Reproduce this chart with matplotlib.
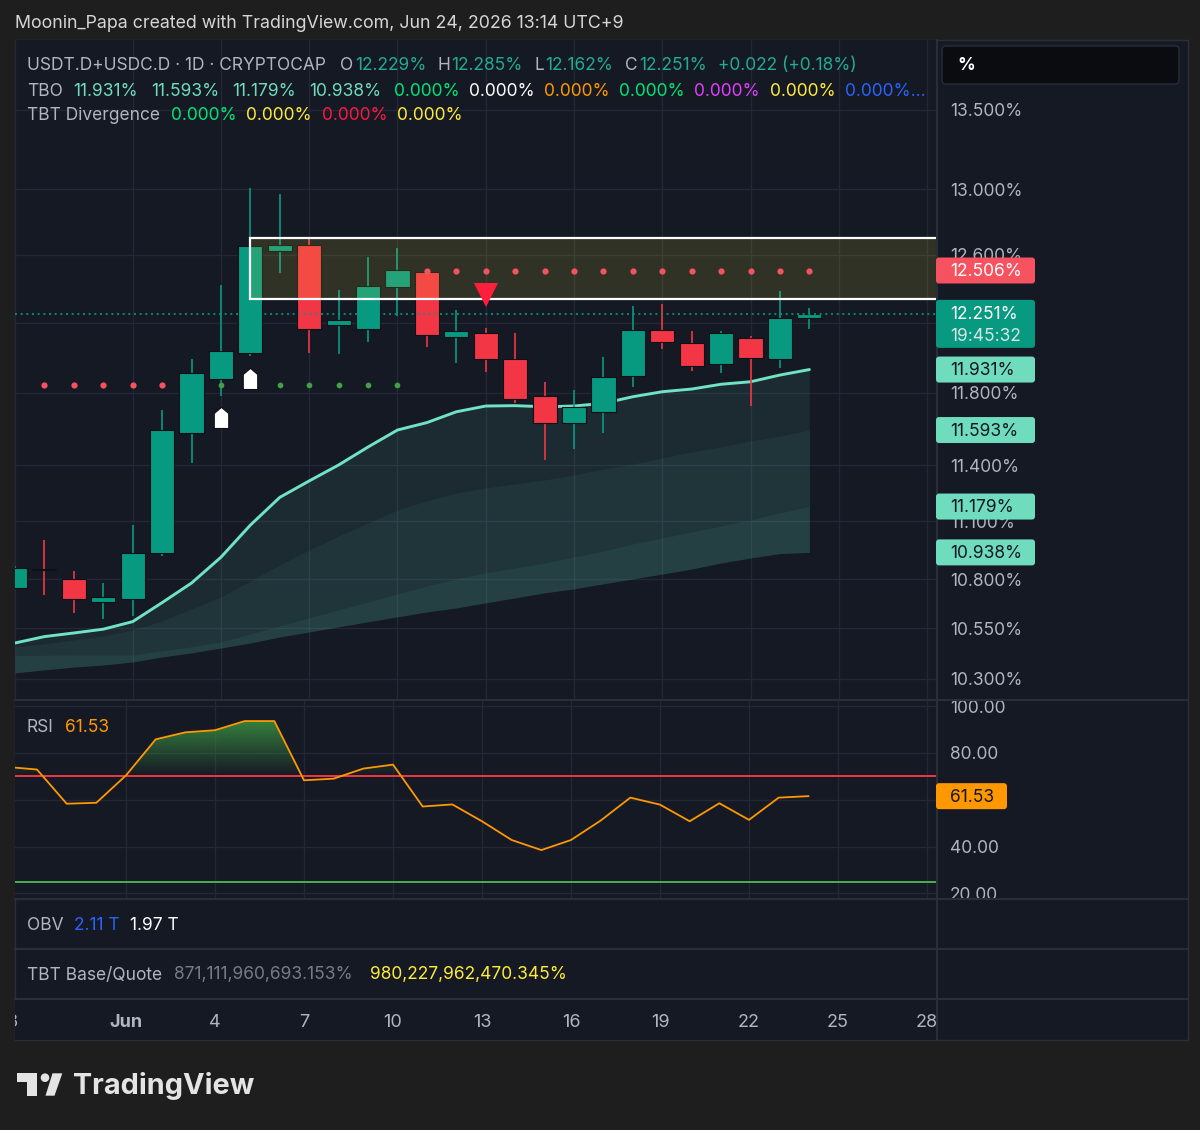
import numpy as np
import pandas as pd
import matplotlib
matplotlib.use("Agg")
from matplotlib import pyplot as plt
import matplotlib.dates as mdates
from matplotlib.patches import Rectangle, FancyBboxPatch, Polygon, Circle
from matplotlib.path import Path
from matplotlib.lines import Line2D
from matplotlib.transforms import IdentityTransform
from matplotlib.ticker import FixedLocator, NullLocator, FuncFormatter
from matplotlib.colors import to_rgb

plt.rcParams['font.family'] = ['Inter', 'DejaVu Sans']

# ---- USDT.D+USDC.D daily candles ----
days = pd.date_range('2026-05-28', '2026-06-24', freq='D')
opens  = [10.756, 10.850, 10.799, 10.685, 10.697, 10.936, 11.575, 11.878, 12.027, 12.623,
          12.656, 12.188, 12.165, 12.410, 12.497, 12.119, 12.138, 11.989, 11.782, 11.630,
          11.694, 11.895, 12.158, 12.084, 11.963, 12.110, 11.989, 12.229]
highs  = [10.870, 11.003, 10.842, 10.782, 11.081, 11.704, 11.989, 12.420, 13.004, 12.969,
          12.693, 12.391, 12.588, 12.639, 12.510, 12.274, 12.171, 12.138, 11.862, 11.816,
          12.004, 12.297, 12.309, 12.152, 12.152, 12.123, 12.385, 12.285]
lows   = [10.750, 10.720, 10.626, 10.596, 10.614, 10.919, 11.415, 11.784, 12.010, 12.493,
          12.027, 12.018, 12.087, 12.239, 12.058, 11.970, 11.919, 11.745, 11.429, 11.489,
          11.575, 11.831, 12.046, 11.925, 11.913, 11.728, 11.938, 12.162]
closes = [10.859, 10.845, 10.697, 10.707, 10.933, 11.593, 11.910, 12.039, 12.653, 12.656,
          12.165, 12.215, 12.414, 12.511, 12.127, 12.152, 11.989, 11.764, 11.634, 11.722,
          11.891, 12.158, 12.090, 11.953, 12.138, 11.995, 12.229, 12.251]

# TBO bands (fast line on top, three slower lines below)
tbo_fast = [10.477, 10.509, 10.527, 10.546, 10.584, 10.680, 10.780, 10.913, 11.081, 11.228,
            11.316, 11.402, 11.500, 11.593, 11.634, 11.694, 11.726, 11.728, 11.722, 11.726,
            11.741, 11.778, 11.806, 11.821, 11.848, 11.862, 11.900, 11.931]
tbo_mid  = [10.458, 10.473, 10.492, 10.512, 10.542, 10.588, 10.648, 10.709, 10.790, 10.873,
            10.951, 11.024, 11.092, 11.161, 11.209, 11.251, 11.278, 11.300, 11.321, 11.348,
            11.380, 11.407, 11.440, 11.473, 11.500, 11.533, 11.560, 11.593]
tbo_low  = [10.414, 10.416, 10.417, 10.418, 10.418, 10.438, 10.458, 10.482, 10.522, 10.562,
            10.603, 10.643, 10.683, 10.724, 10.765, 10.801, 10.832, 10.857, 10.883, 10.914,
            10.945, 10.982, 11.013, 11.045, 11.076, 11.108, 11.145, 11.179]
tbo_slow = [10.329, 10.344, 10.358, 10.368, 10.383, 10.408, 10.428, 10.452, 10.477, 10.507,
            10.532, 10.558, 10.583, 10.608, 10.633, 10.653, 10.679, 10.704, 10.730, 10.750,
            10.776, 10.801, 10.826, 10.852, 10.883, 10.909, 10.932, 10.938]

rsi = [74.0, 72.9, 58.3, 58.7, 70.4, 85.8, 88.8, 89.7, 93.6, 93.6,
       68.3, 69.0, 73.3, 75.0, 57.1, 58.0, 50.8, 42.8, 38.5, 42.8,
       51.1, 60.9, 57.9, 50.8, 58.5, 51.4, 60.9, 61.53]

# signals
zone_start, zone_low, zone_high = '2026-06-05', 12.336, 12.703
resist_level, resist_days = 12.506, pd.date_range('2026-06-11', '2026-06-24', freq='D')
trail_level = 11.845
trail_red = ['2026-05-29', '2026-05-30', '2026-05-31', '2026-06-01', '2026-06-02']
trail_green = ['2026-06-04', '2026-06-05', '2026-06-06', '2026-06-07', '2026-06-08', '2026-06-09', '2026-06-10']
buy_days, buy_prices = ['2026-06-04', '2026-06-05'], [11.660, 11.880]
sell_days, sell_prices = ['2026-06-13'], [12.361]

price_ticks = [10.30, 10.55, 10.80, 11.10, 11.40, 11.80, 12.20, 12.60, 13.00, 13.50]
price_hidden = [12.20]          # label sits under the last-price tag
rsi_ticks = [20, 40, 60, 80, 100]
rsi_hidden = [60]               # label sits under the RSI value tag
date_ticks = ['2026-05-28', '2026-06-01', '2026-06-04', '2026-06-07', '2026-06-10', '2026-06-13',
              '2026-06-16', '2026-06-19', '2026-06-22', '2026-06-25', '2026-06-28']
date_labels = ['28', 'Jun', '4', '7', '10', '13', '16', '19', '22', '25', '28']

# ---- style ----
W, H = 1200, 1130
OUT = '#1e1e1e'
BG = '#151924'
GRID = '#232834'
SEP = '#2a2e39'
TXT = '#b2b5be'
UP = '#089981'
DN = '#f23645'
FS = 12.5

fig = plt.figure(figsize=(W / 100, H / 100), dpi=100, facecolor=OUT)
fig.add_artist(Rectangle((15 / W, 1 - 1040 / H), 1173 / W, 1000 / H, transform=fig.transFigure,
                         facecolor=BG, edgecolor=SEP, lw=1, zorder=-1))


def add_ax(x0, y0, x1, y1):
    a = fig.add_axes([x0 / W, 1 - y1 / H, (x1 - x0) / W, (y1 - y0) / H], facecolor=BG)
    for s in a.spines.values():
        s.set_visible(False)
    return a


def ftext(x, y, s, **kw):
    kw.setdefault('va', 'center')
    kw.setdefault('fontsize', FS)
    kw.setdefault('color', TXT)
    return fig.text(x / W, 1 - (y + 2) / H, s, **kw)


def sep(y0, y1, x0, x1):
    fig.add_artist(Line2D([x0 / W, x1 / W], [1 - y0 / H, 1 - y1 / H], transform=fig.transFigure,
                          color=SEP, lw=1.5, zorder=2))


xd = mdates.date2num(days)
xlim = (xd[0] + 0.258, xd[0] + 31.337)
tick_x = mdates.date2num(pd.to_datetime(date_ticks))
dn = lambda lst: mdates.date2num(pd.to_datetime(lst))

# ---- main pane ----
ax = add_ax(15, 40, 937, 700)
ax.set_yscale('log')
ax.set_xlim(*xlim)
ax.set_ylim(10.197, 13.954)
ax.yaxis.set_major_locator(FixedLocator(price_ticks))
ax.yaxis.set_minor_locator(NullLocator())
ax.yaxis.set_major_formatter(FuncFormatter(
    lambda v, p: '' if any(abs(v - h) < 1e-6 for h in price_hidden) else f'{v:.3f}%'))
ax.yaxis.tick_right()
ax.tick_params(axis='y', length=0, pad=9.4, labelsize=FS, labelcolor=TXT)
ax.set_xticks(tick_x)
ax.tick_params(axis='x', length=0, labelbottom=False)
ax.grid(True, color=GRID, lw=1)
ax.set_axisbelow(True)

teal = '#5ec2ad'
ax.fill_between(xd, tbo_fast, tbo_slow, color=teal, alpha=0.10, lw=0, zorder=1)
ax.fill_between(xd, tbo_mid, tbo_slow, color=teal, alpha=0.075, lw=0, zorder=1)
ax.fill_between(xd, tbo_low, tbo_slow, color=teal, alpha=0.08, lw=0, zorder=1)
ax.plot(xd, tbo_fast, color='#6fe3c3', lw=2.1, zorder=3, solid_capstyle='round')

for xi, o, h, l, c in zip(xd, opens, highs, lows, closes):
    col = UP if c >= o else DN
    ax.vlines(xi, l, h, color=col, lw=1.2, zorder=4)
    ax.add_patch(Rectangle((xi - 0.41, min(o, c)), 0.82, abs(c - o), facecolor=col,
                           edgecolor='#0d1017', lw=0.8, zorder=4))

zx = dn([zone_start])[0]
ax.add_patch(Rectangle((zx, zone_low), 60, zone_high - zone_low, facecolor=(1, 0.92, 0.23, 0.12),
                       edgecolor='white', lw=1.6, zorder=5))

ax.scatter(mdates.date2num(resist_days), [resist_level] * len(resist_days), s=20, color='#f7525f',
           lw=0, zorder=6)
ax.scatter(dn(trail_red), [trail_level] * len(trail_red), s=20, color='#f7525f', lw=0, zorder=6)
ax.scatter(dn(trail_green), [trail_level] * len(trail_green), s=17, color='#43a047', lw=0, zorder=6)

house = Path([(0, 1), (0.65, 0.45), (0.65, -0.9), (-0.65, -0.9), (-0.65, 0.45), (0, 1)],
             [Path.MOVETO] + [Path.LINETO] * 4 + [Path.CLOSEPOLY])
ax.plot(dn(buy_days), buy_prices, ls='none', marker=house, ms=16, color='white', mec='#0d1017',
        mew=0.8, zorder=7)
ax.plot(dn(sell_days), sell_prices, ls='none', marker='v', ms=17, color='#ff1f3d', mew=0, zorder=7)

ax.axhline(closes[-1], color=UP, ls=(0, (1.2, 2.2)), lw=1.2, zorder=7)

# ---- RSI pane ----
axr = add_ax(15, 700, 937, 899)
axr.set_xlim(*xlim)
axr.set_ylim(17.6, 102.6)
axr.set_yticks(rsi_ticks)
axr.yaxis.set_major_formatter(FuncFormatter(
    lambda v, p: '' if any(abs(v - h) < 1e-6 for h in rsi_hidden) else f'{v:.2f}'))
axr.yaxis.tick_right()
axr.tick_params(axis='y', length=0, pad=9.4, labelsize=FS, labelcolor=TXT)
axr.set_xticks(tick_x)
axr.tick_params(axis='x', length=0, labelbottom=False)
axr.grid(True, color=GRID, lw=1)
axr.set_axisbelow(True)
axr.axhline(70, color='#f23645', lw=1.4, zorder=2)
axr.axhline(25, color='#4caf50', lw=1.4, zorder=2)

rsi_a = np.array(rsi)
poly = axr.fill_between(xd, rsi_a, 70, where=rsi_a >= 70, interpolate=True, facecolor='none',
                        edgecolor='none')
grad = np.zeros((200, 1, 4))
grad[..., :3] = to_rgb('#3e9a44')
grad[:, 0, 3] = np.linspace(0, 0.85, 200)
im = axr.imshow(grad, extent=[xd[0], xd[-1], 70, 95], origin='lower', aspect='auto', zorder=1)
im.set_clip_path(Path.make_compound_path(*poly.get_paths()), transform=axr.transData)
axr.set_xlim(*xlim)
axr.set_ylim(17.6, 102.6)
axr.plot(xd, rsi, color='#ff9800', lw=1.3, zorder=4)

# ---- time axis ----
axx = add_ax(15, 999, 937, 1040)
axx.set_xlim(*xlim)
axx.set_ylim(0, 1)
axx.set_xticks([])
axx.set_yticks([])
for tx, lab in zip(tick_x, date_labels):
    axx.text(tx, 0.42, lab, ha='center', va='center', fontsize=13, color=TXT, clip_on=True,
             fontweight='bold' if lab == 'Jun' else 'normal')

# separators
for y in (700, 899, 949, 999):
    sep(y, y, 15, 1188)
sep(40, 1040, 937, 937)


# ---- price tags ----
def tag(axis, val, text, face, tc, width=99, sub=None):
    yd = axis.transData.transform((axis.get_xlim()[0], val))[1]
    hgt = 26 if sub is None else 48
    top = yd + 13 if sub is None else yd + 14
    fig.add_artist(FancyBboxPatch((936, top - hgt), width, hgt, boxstyle='round,pad=0,rounding_size=3',
                                  transform=IdentityTransform(), facecolor=face, edgecolor='none',
                                  zorder=5))
    fig.text(950, yd - 1, text, transform=IdentityTransform(), color=tc, fontsize=FS, va='center', zorder=6)
    if sub:
        fig.text(950, yd - 23, sub, transform=IdentityTransform(), color='#d8e6e2', fontsize=FS,
                 va='center', zorder=6)


tag(ax, resist_level, f'{resist_level:.3f}%', '#f7525f', 'white')
tag(ax, closes[-1], f'{closes[-1]:.3f}%', UP, 'white', sub='19:45:32')
for v in (tbo_fast[-1], tbo_mid[-1], tbo_low[-1], tbo_slow[-1]):
    tag(ax, v, f'{v:.3f}%', '#6fdcbd', '#131722')
tag(axr, rsi[-1], f'{rsi[-1]:.2f}', '#ff9800', '#131722', width=71)

# "%" box
fig.add_artist(FancyBboxPatch((942, H - 84), 237, 38, boxstyle='round,pad=0,rounding_size=4',
                              transform=IdentityTransform(), facecolor='#0b0c0f', edgecolor=SEP,
                              lw=1, zorder=5))
ftext(957, 64, '%', color='white', fontweight='bold', zorder=6)

# ---- legends / texts ----
ftext(15, 21, 'Moonin_Papa created with TradingView.com, Jun 24, 2026 13:14 UTC+9', color='#d6d6d6',
      fontsize=12.8)

VAL = '#22ab94'
chg = closes[-1] - closes[-2]
hdr1 = [(27, 'USDT.D+USDC.D · 1D · CRYPTOCAP', TXT), (340, 'O', TXT), (355, f'{opens[-1]:.3f}%', VAL),
        (437, 'H', TXT), (451, f'{highs[-1]:.3f}%', VAL), (534, 'L', TXT), (545, f'{lows[-1]:.3f}%', VAL),
        (625, 'C', TXT), (639, f'{closes[-1]:.3f}%', VAL),
        (718, f'{chg:+.3f} ({chg / closes[-2] * 100:+.2f}%)', VAL)]
for x, s, c in hdr1:
    ftext(x, 64, s, color=c)

tbo_c = '#6fdcbd'
hdr2 = [(27, 'TBO', TXT), (73, f'{tbo_fast[-1]:.3f}%', tbo_c), (151, f'{tbo_mid[-1]:.3f}%', tbo_c),
        (232, f'{tbo_low[-1]:.3f}%', tbo_c), (309, f'{tbo_slow[-1]:.3f}%', tbo_c),
        (394, '0.000%', '#00e676'), (469, '0.000%', '#ffffff'), (544, '0.000%', '#ff9800'),
        (619, '0.000%', '#00e676'), (694, '0.000%', '#e040fb'), (770, '0.000%', '#ffeb3b'),
        (845, '0.000%...', '#2962ff')]
for x, s, c in hdr2:
    ftext(x, 89, s, color=c)

hdr3 = [(27, 'TBT Divergence', TXT), (171, '0.000%', '#00e676'), (246, '0.000%', '#ffeb3b'),
        (322, '0.000%', '#ff1744'), (397, '0.000%', '#ffeb3b')]
for x, s, c in hdr3:
    ftext(x, 114, s, color=c)

ftext(27, 725, 'RSI')
ftext(65, 725, f'{rsi[-1]:.2f}', color='#ff9800')

ftext(27, 923, 'OBV')
ftext(74, 923, '2.11 T', color='#2962ff')
ftext(130, 923, '1.97 T', color='white')

ftext(27, 973, 'TBT Base/Quote')
ftext(174, 973, '871,111,960,693.153%', color='#787b86')
ftext(370, 973, '980,227,962,470.345%', color='#ffeb3b')

# ---- TradingView logo ----
LOGO = '#e4e4e4'
def P(x, y):
    return (x, H - y)
fig.add_artist(Polygon([P(17.3, 1073.3), P(37.3, 1073.3), P(37.3, 1095.7), P(26.7, 1095.7),
                        P(26.7, 1081.7), P(17.3, 1081.7)], closed=True, transform=IdentityTransform(),
                       facecolor=LOGO, edgecolor='none', zorder=5))
fig.add_artist(Circle(P(45, 1077.7), 4.3, transform=IdentityTransform(), facecolor=LOGO,
                      edgecolor='none', zorder=5))
fig.add_artist(Polygon([P(52.5, 1073.3), P(62.3, 1073.3), P(54.5, 1095.7), P(45.5, 1095.7)], closed=True,
                       transform=IdentityTransform(), facecolor=LOGO, edgecolor='none', zorder=5))
ftext(73, 1084, 'TradingView', color=LOGO, fontsize=20.8, fontweight='bold')

fig.savefig('out.png', dpi=100, facecolor=fig.get_facecolor())
